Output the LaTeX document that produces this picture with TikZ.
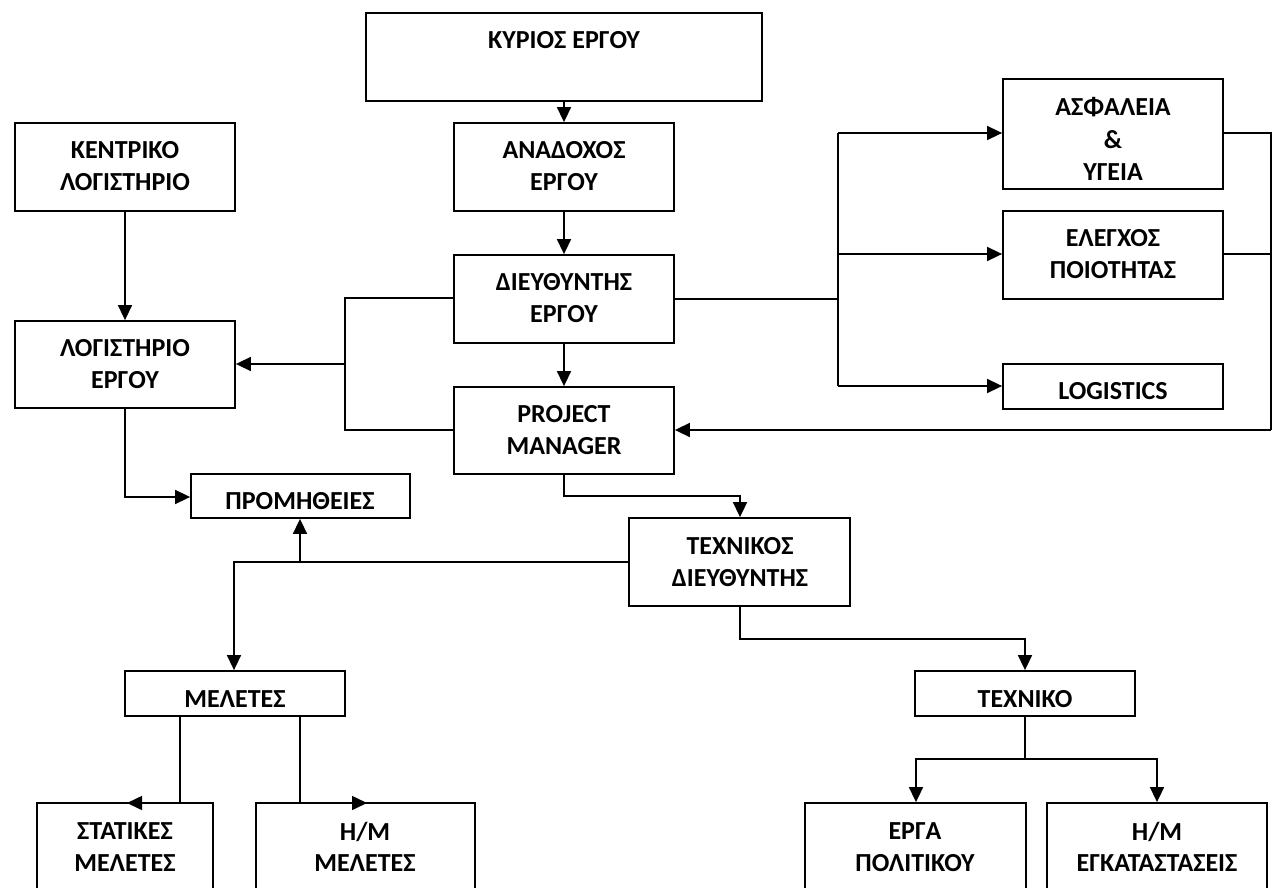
\documentclass[tikz,border=0pt]{standalone}
\usepackage{fontspec}
\setmainfont{Carlito}
\usetikzlibrary{arrows.meta,fit}
\tikzset{
  box/.style={draw=black,line width=1.8pt,inner sep=0pt,rectangle},
  txt/.style={font=\bfseries\fontsize{26}{31.5}\selectfont,align=center,inner sep=0pt,anchor=center},
  con/.style={draw=black,line width=1.6pt},
  arr/.style={con,-{Triangle[length=15pt,width=14pt]}}
}
\begin{document}
\begin{tikzpicture}[x=1pt,y=-1pt]
\clip (0,0) rectangle (1274,888);
\fill[white] (0,0) rectangle (1274,888);
% boxes
\node[box,fit={(366,13) (762,101)}] (kyrios) {};
\node[box,fit={(454,123) (674,211)}] (anad) {};
\node[box,fit={(15,123) (235,211)}] (kentr) {};
\node[box,fit={(454,255) (674,343)}] (dieu) {};
\node[box,fit={(15,321) (235,408)}] (logist) {};
\node[box,fit={(454,387) (674,474)}] (pm) {};
\node[box,fit={(1003,79) (1223,189)}] (asfal) {};
\node[box,fit={(1003,211) (1223,299)}] (elegx) {};
\node[box,fit={(1003,364) (1223,409)}] (logis) {};
\node[box,fit={(191,474) (410,518)}] (prom) {};
\node[box,fit={(629,518) (850,606)}] (texd) {};
\node[box,fit={(125,671) (345,716)}] (melet) {};
\node[box,fit={(915,671) (1135,716)}] (texn) {};
\node[box,fit={(37,803) (213,900)}] (stat) {};
\node[box,fit={(256,803) (475,900)}] (hmmel) {};
\node[box,fit={(805,803) (1026,900)}] (erga) {};
\node[box,fit={(1047,803) (1267,900)}] (egk) {};
% texts
\node[txt] (tkyrios) at (564,40) {ΚΥΡΙΟΣ ΕΡΓΟΥ};
\node[txt] (tanad) at (564,166) {ΑΝΑΔΟΧΟΣ\\ΕΡΓΟΥ};
\node[txt] (tkentr) at (125,166) {ΚΕΝΤΡΙΚΟ\\ΛΟΓΙΣΤΗΡΙΟ};
\node[txt] (tdieu) at (564,298) {ΔΙΕΥΘΥΝΤΗΣ\\ΕΡΓΟΥ};
\node[txt] (tlogist) at (125,364) {ΛΟΓΙΣΤΗΡΙΟ\\ΕΡΓΟΥ};
\node[txt] (tpm) at (564,430) {PROJECT\\MANAGER};
\node[txt,font=\bfseries\fontsize{26}{32.5}\selectfont] (tasfal) at (1113,139) {ΑΣΦΑΛΕΙΑ\\\&\\ΥΓΕΙΑ};
\node[txt] (telegx) at (1113,254) {ΕΛΕΓΧΟΣ\\ΠΟΙΟΤΗΤΑΣ};
\node[txt] (tlogis) at (1113,391) {LOGISTICS};
\node[txt] (tprom) at (300,501) {ΠΡΟΜΗΘΕΙΕΣ};
\node[txt] (ttexd) at (740,562) {ΤΕΧΝΙΚΟΣ\\ΔΙΕΥΘΥΝΤΗΣ};
\node[txt] (tmelet) at (235,699) {ΜΕΛΕΤΕΣ};
\node[txt] (ttexn) at (1025,699) {ΤΕΧΝΙΚΟ};
\node[txt] (tstat) at (125,847) {ΣΤΑΤΙΚΕΣ\\ΜΕΛΕΤΕΣ};
\node[txt] (thmmel) at (365,847) {Η/Μ\\ΜΕΛΕΤΕΣ};
\node[txt] (terga) at (915,847) {ΕΡΓΑ\\ΠΟΛΙΤΙΚΟΥ};
\node[txt] (tegk) at (1157,847) {Η/Μ\\ΕΓΚΑΤΑΣΤΑΣΕΙΣ};
% helper coordinates
\coordinate (brL) at (345,364);
\coordinate (brR) at (838,299);
\coordinate (fbR) at (1271,430);
\coordinate (tdL) at (300,562);
\coordinate (statTip) at (127,803);
\coordinate (hmTip) at (367,803);
\coordinate (tsplit) at (1025,759);
% connectors
\draw[arr] (kyrios.south -| anad.north) -- (anad.north);
\draw[arr] (anad.south) -- (dieu.north);
\draw[arr] (dieu.south) -- (pm.north);
\draw[arr] (kentr.south) -- (logist.north);
\draw[con] (dieu.west |- 0,298) -- (345,298) -- (345,430) -- (pm.west |- 0,430);
\draw[arr] (brL) -- (logist.east |- brL);
\draw[con] (dieu.east |- brR) -- (brR);
\draw[con] (838,133) -- (838,386);
\draw[arr] (838,133) -- (asfal.west |- 0,133);
\draw[arr] (838,254) -- (elegx.west |- 0,254);
\draw[arr] (838,386) -- (logis.west |- 0,386);
\draw[con] (asfal.east |- 0,133) -- (1271,133) -- (fbR);
\draw[con] (elegx.east |- 0,254) -- (1271,254);
\draw[arr] (fbR) -- (pm.east |- fbR);
\draw[arr] (logist.south) -- (125,497) -- (prom.west |- 0,497);
\draw[arr] (pm.south) -- (564,496) -- (740,496) -- (texd.north -| 740,0);
\draw[arr] (texd.west |- 0,562) -- (234,562) -- (melet.north -| 234,0);
\draw[arr] (tdL) -- (prom.south -| tdL);
\draw[arr] (melet.south -| 180,0) -- (180,803) -- (statTip);
\draw[arr] (melet.south -| 300,0) -- (300,803) -- (hmTip);
\draw[arr] (texd.south -| 740,0) -- (740,639) -- (1025,639) -- (texn.north);
\draw[con] (texn.south) -- (tsplit);
\draw[arr] (tsplit) -- (916,759) -- (erga.north -| 916,0);
\draw[arr] (tsplit) -- (1157,759) -- (egk.north -| 1157,0);
\end{tikzpicture}
\end{document}
